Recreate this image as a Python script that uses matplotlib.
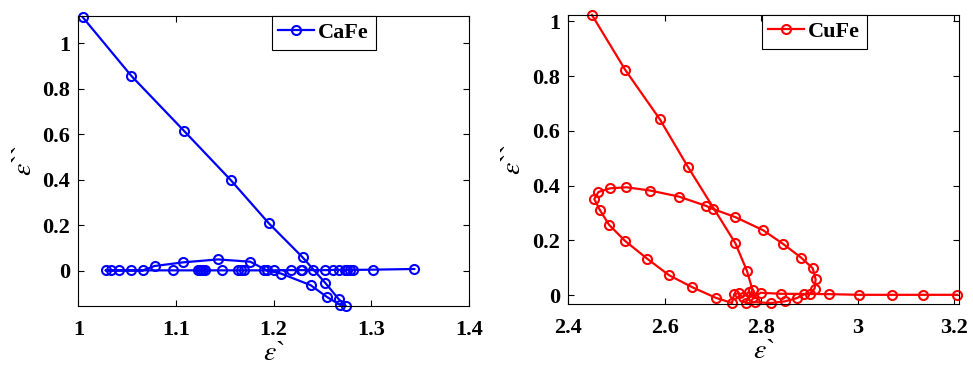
import numpy as np
import matplotlib.pyplot as plt
from matplotlib.ticker import FormatStrFormatter

# CaFe: eps' and eps''
cafe_x = [1.0044, 1.054, 1.108, 1.156, 1.195, 1.2297, 1.253, 1.2665, 1.274,
          1.268, 1.2542, 1.2378, 1.2075, 1.193, 1.176, 1.143, 1.107, 1.078,
          1.066, 1.054, 1.042, 1.033, 1.028,
          1.097, 1.123, 1.1245, 1.126, 1.128, 1.130, 1.147, 1.164, 1.167, 1.170,
          1.190, 1.2006, 1.2177, 1.2276, 1.2293, 1.2406, 1.253, 1.261, 1.2665,
          1.273, 1.2755, 1.278, 1.281, 1.302, 1.344]
cafe_y = [1.115, 0.858, 0.616, 0.399, 0.209, 0.059, -0.054, -0.124, -0.155,
          -0.150, -0.114, -0.063, -0.012, 0.002, 0.040, 0.050, 0.037, 0.021,
          0.002, 0.002, 0.002, 0.002, 0.002,
          0.002, 0.002, 0.002, 0.002, 0.002, 0.002, 0.002, 0.002, 0.002, 0.002,
          0.002, 0.002, 0.003, 0.003, 0.003, 0.003, 0.003, 0.004, 0.004,
          0.004, 0.004, 0.004, 0.004, 0.005, 0.008]

# CuFe
cufe_x = [2.449, 2.5185, 2.590, 2.6486, 2.7463, 2.7704, 2.782,
          2.7676, 2.7876, 2.820, 2.8488, 2.874, 2.8894, 2.9005, 2.9108, 2.9128,
          2.9066, 2.8826, 2.8454, 2.804, 2.7463, 2.6995, 2.6857, 2.6293, 2.570,
          2.5205, 2.4868, 2.4627, 2.454, 2.4655, 2.4847, 2.5178, 2.5632, 2.6086,
          2.6568, 2.7056, 2.7394,
          2.744, 2.753, 2.7614, 2.7737, 2.7834, 2.7993, 2.8412, 2.9404, 3.0037,
          3.071, 3.135, 3.2067]
cufe_y = [1.024, 0.822, 0.642, 0.467, 0.190, 0.0887, 0.019,
          -0.030, -0.026, -0.029, -0.023, -0.011, 0.0035, 0.0035, 0.024, 0.058,
          0.0985, 0.137, 0.187, 0.237, 0.285, 0.315, 0.326, 0.360, 0.382,
          0.394, 0.390, 0.377, 0.351, 0.311, 0.2566, 0.198, 0.1336, 0.073,
          0.029, -0.0097, -0.029,
          0.0035, 0.007, -0.0087, 0.011, -0.0087, 0.0084, 0.0047, 0.0035, 0.001,
          0.001, 0.001, 0.001]

plt.rcParams['font.family'] = 'Liberation Serif'
plt.rcParams['mathtext.fontset'] = 'stix'

fig = plt.figure(figsize=(9.73, 3.71), dpi=100)
ax1 = fig.add_axes([0.0805, 0.175, 0.4015, 0.782])
ax2 = fig.add_axes([0.584, 0.181, 0.4016, 0.779])


def style(ax, xt, yt, xlim, ylim):
    ax.set_xlim(*xlim)
    ax.set_ylim(*ylim)
    ax.set_xticks(xt)
    ax.set_yticks(yt)
    ax.xaxis.set_major_formatter(FormatStrFormatter('%g'))
    ax.yaxis.set_major_formatter(FormatStrFormatter('%g'))
    ax.tick_params(direction='in', top=True, right=True, length=4, width=0.8,
                   labelsize=16)
    ax.tick_params(axis='x', pad=10)
    ax.tick_params(axis='y', pad=6)
    for lab in ax.get_xticklabels() + ax.get_yticklabels():
        lab.set_fontweight('bold')
    for s in ax.spines.values():
        s.set_linewidth(0.8)
    ax.set_xlabel(r'$\epsilon$`', fontsize=20, labelpad=1)
    ax.set_ylabel(r'$\epsilon$``', fontsize=20, labelpad=4)


ax1.plot(cafe_x, cafe_y, '-o', color='#0000ff', lw=1.6, ms=6.5,
         mfc='none', mew=1.5, label='CaFe', clip_on=False)
style(ax1, [1, 1.1, 1.2, 1.3, 1.4], [0, 0.2, 0.4, 0.6, 0.8, 1],
      (1, 1.4), (-0.155, 1.12))

ax2.plot(cufe_x, cufe_y, '-o', color='#ff0000', lw=1.6, ms=6.5,
         mfc='none', mew=1.5, label='CuFe', clip_on=False)
style(ax2, [2.4, 2.6, 2.8, 3, 3.2], [0, 0.2, 0.4, 0.6, 0.8, 1],
      (2.4, 3.21), (-0.032, 1.024))

for ax in (ax1, ax2):
    leg = ax.legend(loc='upper left', bbox_to_anchor=(0.495, 1.0),
                    prop={'weight': 'bold', 'size': 16}, fancybox=False,
                    framealpha=1, edgecolor='black', handlelength=1.6,
                    borderpad=0.3, handletextpad=0.2, borderaxespad=0)
    leg.get_frame().set_linewidth(0.8)

fig.savefig('out.png', dpi=100)
